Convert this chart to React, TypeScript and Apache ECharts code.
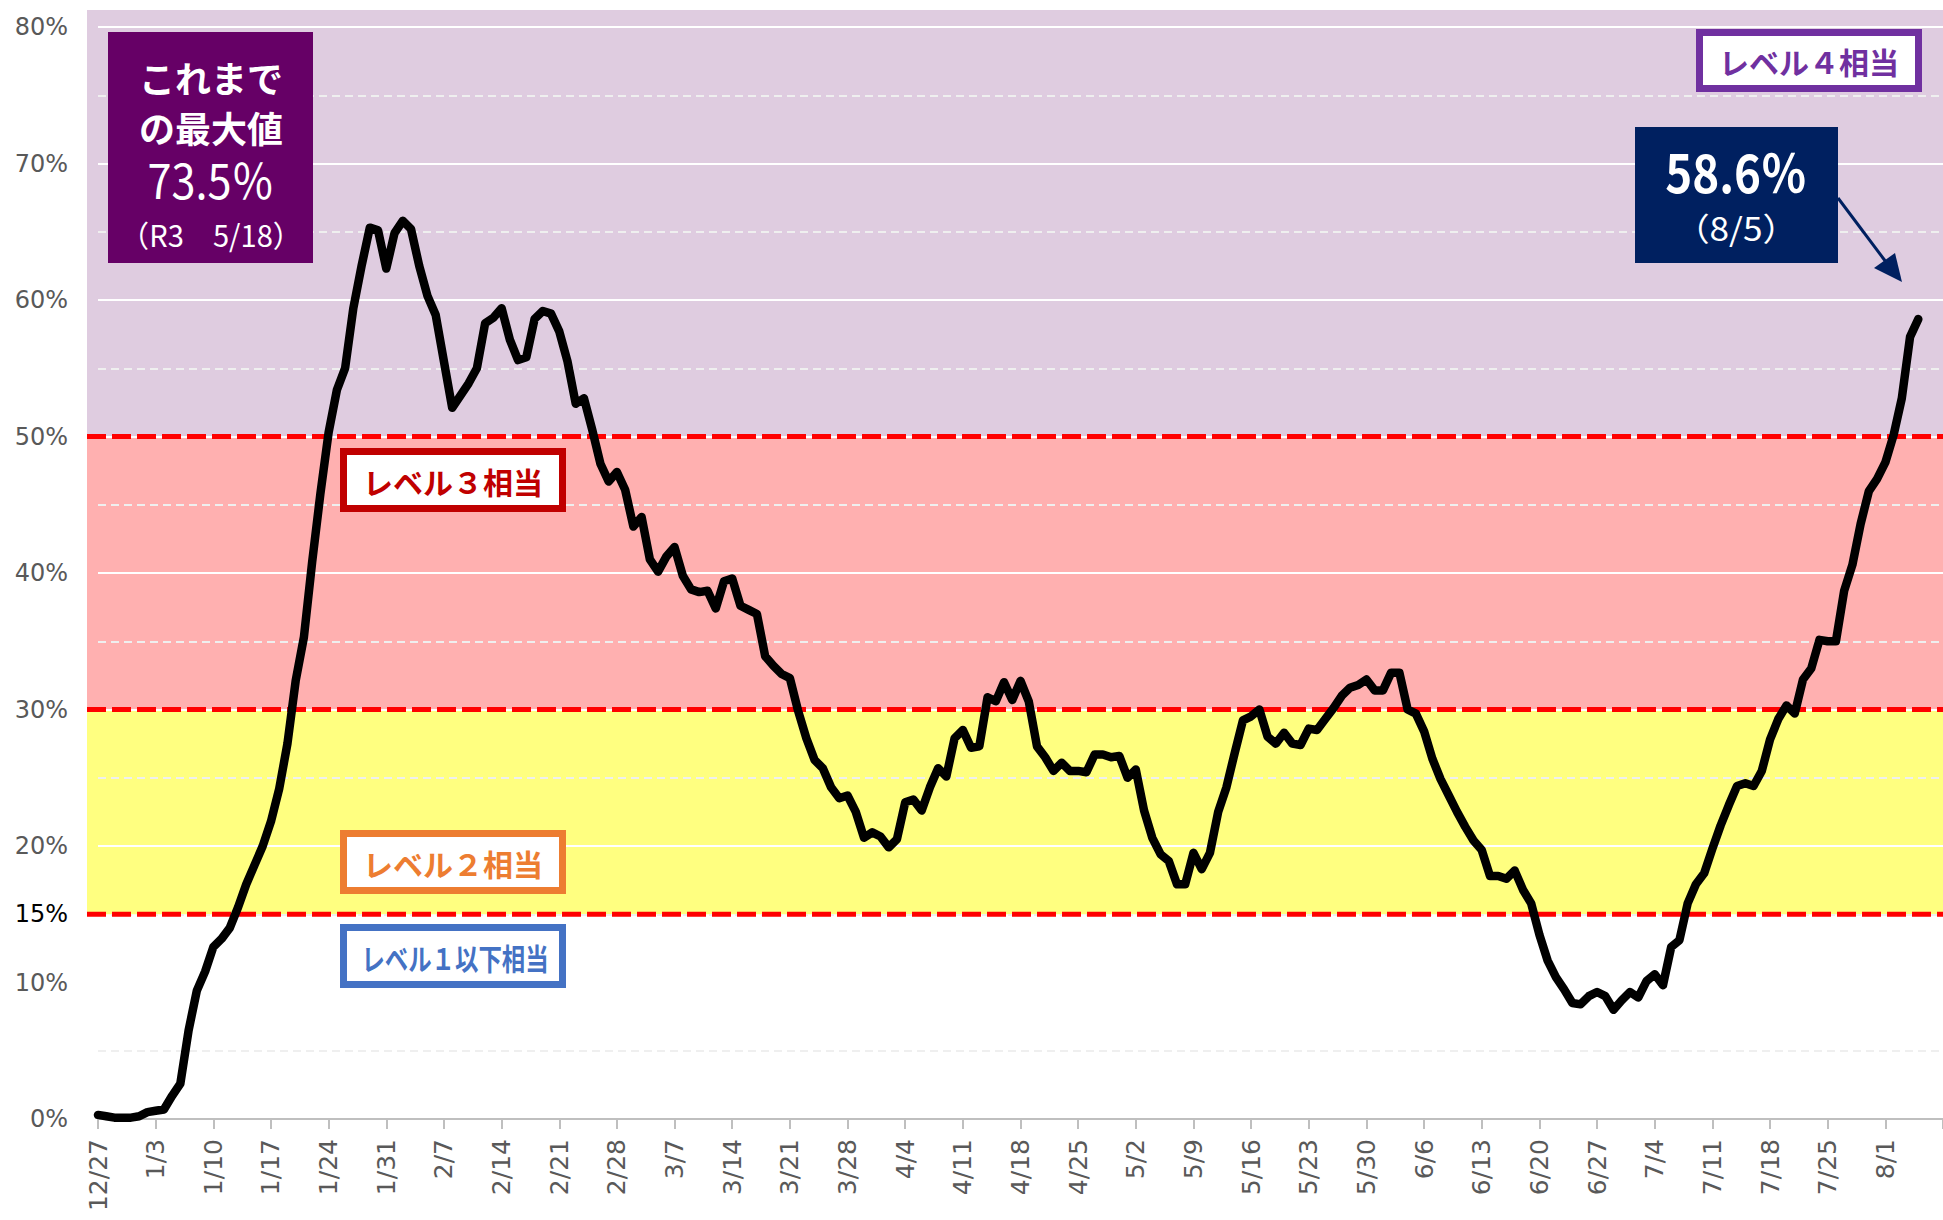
import React, { useEffect, useRef } from 'react';
import * as echarts from 'echarts';

// ---- data ----
const AXIS_DAYS = 225; // 12/27 .. 8/8
const dates: string[] = [];
for (let i = 0; i < AXIS_DAYS; i++) {
  const d = new Date(2021, 11, 27 + i);
  dates.push(`${d.getMonth() + 1}/${d.getDate()}`);
}

// bed occupancy rate (%), daily from 12/27 to 8/5
const occupancyPct: number[] = [
  0.3, 0.2, 0.1, 0.1, 0.1, 0.2, 0.5, 0.6, 0.7, 1.7,
  2.6, 6.5, 9.4, 10.8, 12.6, 13.2, 14.0, 15.5, 17.2, 18.6,
  20.0, 21.8, 24.2, 27.5, 32.1, 35.3, 40.8, 45.8, 50.3, 53.4,
  55.0, 59.4, 62.5, 65.3, 65.1, 62.3, 64.9, 65.8, 65.2, 62.5,
  60.3, 58.9, 55.5, 52.1, 53.0, 53.9, 55.0, 58.3, 58.7, 59.4,
  57.1, 55.6, 55.8, 58.6, 59.2, 59.0, 57.7, 55.5, 52.4, 52.8,
  50.5, 48.0, 46.7, 47.4, 46.1, 43.4, 44.1, 41.0, 40.1, 41.2,
  41.9, 39.8, 38.8, 38.6, 38.7, 37.4, 39.4, 39.6, 37.6, 37.3,
  37.0, 33.9, 33.2, 32.6, 32.3, 29.9, 27.9, 26.3, 25.7, 24.3,
  23.5, 23.7, 22.5, 20.6, 21.0, 20.7, 19.9, 20.5, 23.2, 23.4,
  22.6, 24.3, 25.7, 25.1, 27.9, 28.5, 27.2, 27.3, 30.9, 30.6,
  32.0, 30.7, 32.1, 30.6, 27.3, 26.5, 25.5, 26.1, 25.5, 25.5,
  25.4, 26.7, 26.7, 26.5, 26.6, 25.0, 25.6, 22.6, 20.6, 19.4,
  18.9, 17.2, 17.2, 19.5, 18.3, 19.5, 22.5, 24.3, 26.8, 29.2,
  29.5, 30.0, 28.0, 27.5, 28.3, 27.5, 27.4, 28.6, 28.5, 29.3,
  30.1, 31.0, 31.6, 31.8, 32.2, 31.4, 31.4, 32.7, 32.7, 30.0,
  29.7, 28.4, 26.4, 24.9, 23.7, 22.5, 21.4, 20.4, 19.7, 17.8,
  17.8, 17.6, 18.2, 16.8, 15.8, 13.5, 11.6, 10.4, 9.5, 8.5,
  8.4, 9.0, 9.3, 9.0, 8.0, 8.7, 9.3, 8.9, 10.1, 10.6,
  9.8, 12.6, 13.1, 15.8, 17.2, 18.0, 19.8, 21.5, 23.0, 24.4,
  24.6, 24.4, 25.5, 27.8, 29.3, 30.3, 29.7, 32.2, 33.0, 35.1,
  35.0, 35.0, 38.7, 40.6, 43.6, 46.0, 46.9, 48.1, 50.1, 52.8,
  57.3, 58.6,
];

const levelLines: number[] = [15, 30, 50];
const bandBounds: number[] = [15, 30, 50];
const bandColors: string[] = ['#FFFF80', '#FFB0B0', '#DFCCE0'];

const levelLabels = [
  { text: 'レベル４相当', color: '#7030A0' },
  { text: 'レベル３相当', color: '#C00000' },
  { text: 'レベル２相当', color: '#ED7D31' },
  { text: 'レベル１以下相当', color: '#4472C4' },
];

const JP = '"Noto Sans CJK JP", "Noto Sans", sans-serif';
const AX = '"DejaVu Sans", sans-serif';

export default function App() {
  const ref = useRef<HTMLDivElement>(null);

  useEffect(() => {
    if (!ref.current) return;
    const chart = echarts.init(ref.current, null, { renderer: 'svg' });

    chart.setOption({
      animation: false,
      backgroundColor: '#FFFFFF',
      grid: { left: 98, right: 0, top: 27, bottom: 101, containLabel: false },
      xAxis: {
        type: 'category',
        data: dates,
        boundaryGap: false,
        axisLine: { show: true, lineStyle: { color: '#BFBFBF', width: 2 } },
        axisTick: {
          show: true,
          interval: (i: number) => i % 7 === 0,
          length: 10,
          lineStyle: { color: '#BFBFBF', width: 2 },
        },
        axisLabel: {
          interval: (i: number) => i % 7 === 0 && i < occupancyPct.length,
          rotate: 90,
          color: '#595959',
          fontSize: 25,
          fontFamily: AX,
          margin: 20,
        },
        splitLine: { show: false },
      },
      yAxis: {
        type: 'value',
        min: 0,
        max: 80,
        interval: 10,
        axisLine: { show: false },
        axisTick: { show: false },
        axisLabel: {
          formatter: '{value}%',
          color: '#595959',
          fontSize: 24,
          fontFamily: AX,
          margin: 30,
        },
        splitLine: { show: true, lineStyle: { color: '#FFFFFF', width: 2 } },
        minorTick: { show: false, splitNumber: 2 },
        minorSplitLine: { show: true, lineStyle: { color: '#EFEFEF', width: 2, type: [8, 5] } },
      },
      series: [
        {
          type: 'line',
          data: occupancyPct,
          symbol: 'none',
          z: 5,
          lineStyle: { color: '#000000', width: 8.5, cap: 'round', join: 'round' },
        },
      ],
    });

    const yPx = (v: number) => chart.convertToPixel({ yAxisIndex: 0 }, v) as number;
    const left = 87;
    const right = 1943;
    const topEdge = 10;

    const elements: any[] = [];
    // bands
    const bandTops = [bandBounds[1], bandBounds[2], null];
    bandBounds.forEach((b, i) => {
      const yBottom = yPx(b);
      const yTop = bandTops[i] === null ? topEdge : yPx(bandTops[i] as number);
      elements.push({
        type: 'rect', z: -10, silent: true,
        shape: { x: left, y: yTop, width: right - left, height: yBottom - yTop },
        style: { fill: bandColors[i] },
      });
    });
    // red dashed level lines
    levelLines.forEach((v) => {
      const y = yPx(v);
      elements.push({
        type: 'line', z: 3, silent: true,
        shape: { x1: left, y1: y, x2: right, y2: y },
        style: { stroke: '#FF0000', lineWidth: 5, lineDash: [19, 6] },
      });
    });
    // 15% label
    elements.push({
      type: 'text', z: 10, x: 68, y: yPx(15),
      style: { text: '15%', fill: '#000000', fontSize: 24, fontFamily: AX, align: 'right', verticalAlign: 'middle', textAlign: 'right', textVerticalAlign: 'middle' },
    });

    const txt = (text: string, x: number, y: number, fontSize: number, fill: string, weight: string, scaleX = 1) => ({
      type: 'text', z: 20, x, y, scaleX,
      style: {
        text, fill, fontSize, fontFamily: JP, fontWeight: weight,
        align: 'center', verticalAlign: 'middle', textAlign: 'center', textVerticalAlign: 'middle',
      },
    });

    // max value box
    elements.push({ type: 'rect', z: 15, shape: { x: 108, y: 32, width: 205, height: 231 }, style: { fill: '#660066' } });
    elements.push(txt('これまで', 211, 77, 36, '#FFFFFF', 'bold'));
    elements.push(txt('の最大値', 211, 127, 36, '#FFFFFF', 'bold'));
    elements.push(txt('73.5％', 211, 178, 48, '#FFFFFF', 'normal', 0.9));
    elements.push(txt('（R3　5/18）', 211, 234, 30, '#FFFFFF', 'normal', 0.97));

    // latest value box
    elements.push({ type: 'rect', z: 15, shape: { x: 1635, y: 127, width: 203, height: 136 }, style: { fill: '#002060' } });
    elements.push(txt('58.6％', 1736, 170, 52, '#FFFFFF', 'bold', 0.88));
    elements.push(txt('（8/5）', 1736, 227, 32, '#FFFFFF', 'normal', 1.1));
    elements.push({
      type: 'line', z: 15,
      shape: { x1: 1838, y1: 198, x2: 1886, y2: 262 },
      style: { stroke: '#002060', lineWidth: 3 },
    });
    elements.push({
      type: 'polygon', z: 15,
      shape: { points: [[1902, 282], [1874, 268], [1895, 253]] },
      style: { fill: '#002060' },
    });

    // level boxes (outer bounds)
    const boxes = [
      { x: 1696, y: 29, w: 226, h: 63, tx: 1809, ty: 61, sx: 1 },
      { x: 340, y: 448, w: 226, h: 64, tx: 453, ty: 481, sx: 1 },
      { x: 340, y: 830, w: 226, h: 64, tx: 453, ty: 863, sx: 1 },
      { x: 340, y: 924, w: 226, h: 64, tx: 455, ty: 957, sx: 0.78 },
    ];
    const bw = 7;
    boxes.forEach((b, i) => {
      elements.push({
        type: 'rect', z: 15,
        shape: { x: b.x + bw / 2, y: b.y + bw / 2, width: b.w - bw, height: b.h - bw },
        style: { fill: '#FFFFFF', stroke: levelLabels[i].color, lineWidth: bw },
      });
      elements.push(txt(levelLabels[i].text, b.tx, b.ty, 30, levelLabels[i].color, 'bold', b.sx));
    });

    chart.setOption({ graphic: elements });

    return () => chart.dispose();
  }, []);

  return <div ref={ref} style={{ position: 'absolute', left: 0, top: 0, width: 1943, height: 1220 }} />;
}
